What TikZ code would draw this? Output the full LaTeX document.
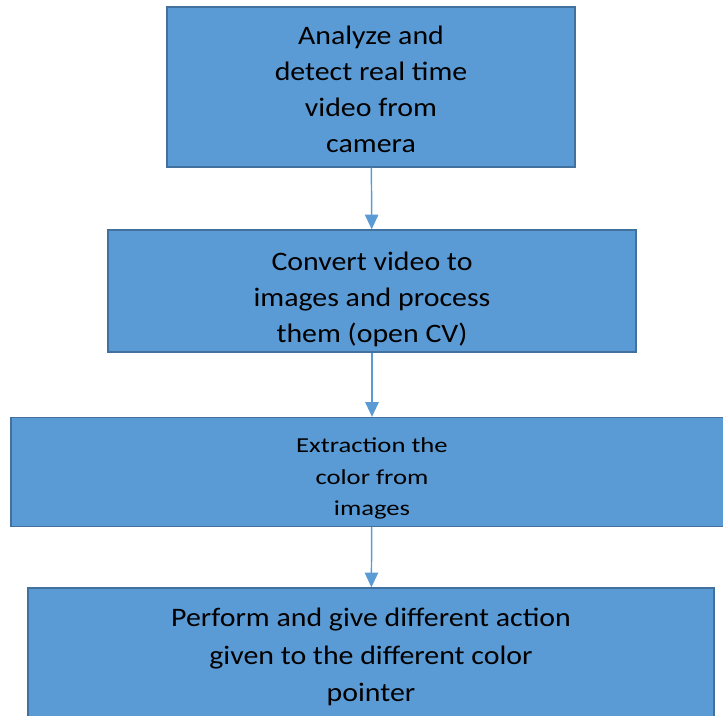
\documentclass[tikz,border=0pt]{standalone}
\usepackage{fontspec}
\setmainfont[FakeStretch=1.12]{Carlito}
\newfontfamily\widefont[FakeStretch=1.25]{Carlito}
\usetikzlibrary{arrows.meta,positioning}
\definecolor{boxblue}{HTML}{5B9BD5}
\definecolor{boxline}{HTML}{41719C}
% pushes the text of a box down: first line gets a taller strut
\newcommand{\topstrut}[1]{\rule{0pt}{#1}}

\begin{document}
\begin{tikzpicture}[x=0.75pt,y=-0.75pt,
  stepbox/.style={shape=rectangle,draw=boxline,line width=1pt,fill=boxblue,
    align=center,inner sep=0pt,font=\fontsize{20}{27}\selectfont},
  flow/.style={draw=boxblue,line width=1.1pt,arrows={-Triangle[width=10pt,length=11pt]}}]
\useasboundingbox (0,0) rectangle (723,715);
\node[stepbox,minimum width=408*0.75pt,minimum height=160*0.75pt] (analyze) at (371,87)
  {\topstrut{17pt}Analyze and\\detect real time\\video from\\camera};
\node[stepbox,minimum width=528*0.75pt,minimum height=122*0.75pt] (convert) at (372,291)
  {\topstrut{26pt}Convert video to\\images and process\\them (open CV)};
\node[stepbox,minimum width=722*0.75pt,minimum height=109*0.75pt,
  font=\widefont\fontsize{16}{23.5}\selectfont] (extract) at (372,472)
  {\topstrut{21pt}Extraction the\\color from\\images};
\node[stepbox,minimum width=686*0.75pt,minimum height=134*0.75pt,
  font=\fontsize{20}{28}\selectfont] (perform) at (371,655)
  {\topstrut{17pt}Perform and give different action\\given to the different color\\pointer};
\draw[flow] (analyze) -- (convert);
\draw[flow] (convert) -- (extract);
\draw[flow] (extract) -- (perform);
\end{tikzpicture}
\end{document}
